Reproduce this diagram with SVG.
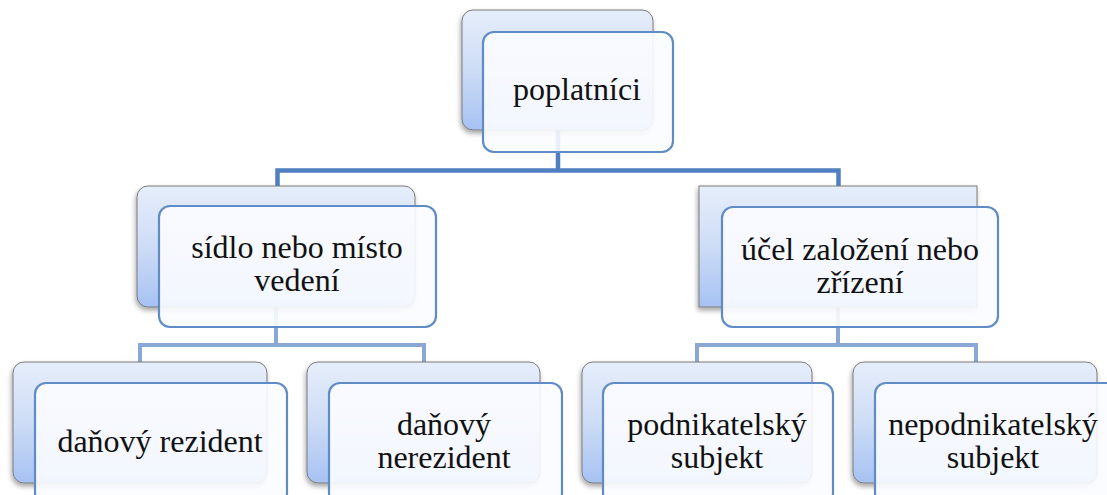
<svg xmlns="http://www.w3.org/2000/svg" width="1107" height="495" viewBox="0 0 1107 495">
<defs>
<linearGradient id="backGrad" x1="0" y1="0" x2="0" y2="1">
<stop offset="0" stop-color="#e6eefb"/>
<stop offset="0.5" stop-color="#cddcf6"/>
<stop offset="1" stop-color="#a6c2f3"/>
</linearGradient>
<filter id="shadow" x="-10%" y="-10%" width="125%" height="130%">
<feDropShadow dx="-1" dy="3" stdDeviation="2.5" flood-color="#000" flood-opacity="0.35"/>
</filter>
</defs>
<style>
.back{fill:url(#backGrad);stroke:#7a7a7a;stroke-width:1;filter:url(#shadow)}
.front{fill:#fbfcff;fill-opacity:0.9;stroke:#5f8bc6;stroke-width:2.2}
.c1{fill:none;stroke:#4f7fc0;stroke-width:4.5}
.c2{fill:none;stroke:#8aa8d6;stroke-width:4}
</style>
<rect width="1107" height="495" fill="#ffffff"/>
<g id="connectors">
<path class="c1" d="M558,130 V170.5 M277.5,186 V170.5 H838.5 V186"/>
<path class="c2" d="M276,307 V345 M140,362 V345 H424 V362"/>
<path class="c2" d="M838,307 V345 M697,362 V345 H976 V362"/>
</g>
<g id="node-poplatnici">
<rect class="back" x="462" y="10" width="191" height="120" rx="11"/>
<rect class="front" x="483" y="32" width="190" height="120" rx="11"/>
<text font-family="Liberation Serif" font-size="32" fill="#111" text-anchor="middle" x="577" y="100">poplatníci</text>
</g>
<g id="node-sidlo">
<rect class="back" x="137" y="186" width="278" height="121" rx="11"/>
<rect class="front" x="159" y="206" width="277" height="121" rx="11"/>
<text font-family="Liberation Serif" font-size="32" fill="#111" text-anchor="middle" x="297" y="257.5">sídlo nebo místo</text>
<text font-family="Liberation Serif" font-size="32" fill="#111" text-anchor="middle" x="297" y="290.5">vedení</text>
</g>
<g id="node-ucel">
<rect class="back" x="699" y="186" width="278" height="121"/>
<rect class="front" x="722" y="207" width="276" height="120" rx="11"/>
<text font-family="Liberation Serif" font-size="32" fill="#111" text-anchor="middle" x="860" y="259.5">účel založení nebo</text>
<text font-family="Liberation Serif" font-size="32" fill="#111" text-anchor="middle" x="860" y="292.5">zřízení</text>
</g>
<g id="node-rezident">
<rect class="back" x="13" y="362" width="254" height="121" rx="11"/>
<rect class="front" x="35" y="383" width="252" height="121" rx="11"/>
<text font-family="Liberation Serif" font-size="32" fill="#111" text-anchor="middle" x="160" y="452">daňový rezident</text>
</g>
<g id="node-nerezident">
<rect class="back" x="307" y="362" width="233" height="121" rx="11"/>
<rect class="front" x="329" y="383" width="233" height="121" rx="11"/>
<text font-family="Liberation Serif" font-size="32" fill="#111" text-anchor="middle" x="444" y="434.5">daňový</text>
<text font-family="Liberation Serif" font-size="32" fill="#111" text-anchor="middle" x="444" y="467.5">nerezident</text>
</g>
<g id="node-podnikatelsky">
<rect class="back" x="582" y="362" width="230" height="121" rx="11"/>
<rect class="front" x="603" y="383" width="230" height="121" rx="11"/>
<text font-family="Liberation Serif" font-size="32" fill="#111" text-anchor="middle" x="717" y="434.5">podnikatelský</text>
<text font-family="Liberation Serif" font-size="32" fill="#111" text-anchor="middle" x="717" y="467.5">subjekt</text>
</g>
<g id="node-nepodnikatelsky">
<rect class="back" x="853" y="362" width="244" height="121" rx="11"/>
<rect class="front" x="875" y="383" width="244" height="121" rx="11"/>
<text font-family="Liberation Serif" font-size="32" fill="#111" text-anchor="middle" x="993" y="435">nepodnikatelský</text>
<text font-family="Liberation Serif" font-size="32" fill="#111" text-anchor="middle" x="993" y="468">subjekt</text>
</g>
</svg>
